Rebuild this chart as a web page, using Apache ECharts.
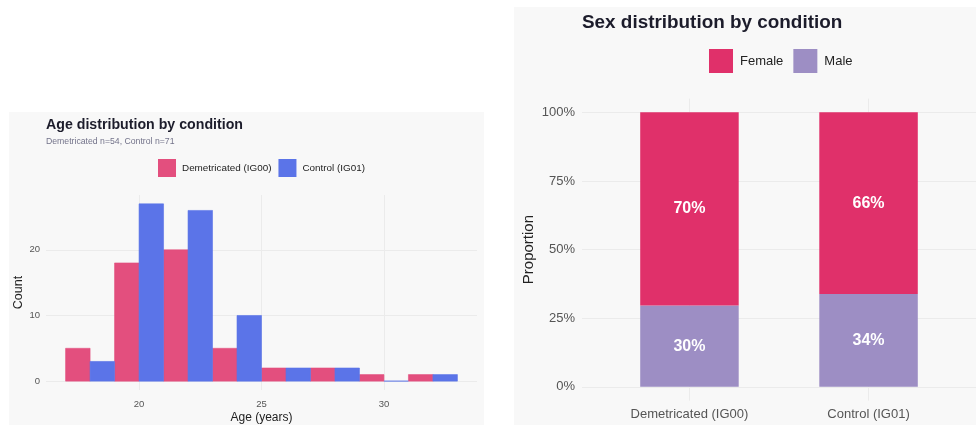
<!DOCTYPE html>
<html>
<head>
<meta charset="utf-8">
<script src="https://cdn.jsdelivr.net/npm/echarts@6/dist/echarts.min.js"></script>
<style>html,body{margin:0;padding:0;background:#fff;}#c{width:976px;height:425px;}</style>
</head>
<body>
<div id="c"></div>
<script>
// ---- data ----
const ageBins = [18, 20, 22, 24, 26, 28, 30, 32];
const demetricatedCounts = [5, 18, 20, 5, 2, 2, 1, 1];
const controlCounts = [3, 27, 26, 10, 2, 2, 0, 1];
const ageTicks = [20, 25, 30];
const countTicks = [0, 10, 20];

const conditions = ['Demetricated (IG00)', 'Control (IG01)'];
const femaleShare = [0.704, 0.662];
const maleShare = [0.296, 0.338];
const propTicks = [0, 0.25, 0.5, 0.75, 1];

const FONT = 'Liberation Sans, Arial, sans-serif';
const RED = '#e34f7e', BLUE = '#5b74e8';
const FEMALE = '#e0306a', MALE = '#9d8ec4';

const chart = echarts.init(document.getElementById('c'), null, {renderer: 'canvas'});

function histItem(offset, color) {
  return function (params, api) {
    const c = api.value(0), v = api.value(1);
    const p0 = api.coord([c + offset, v]);
    const p1 = api.coord([c + offset + 1, 0]);
    return {
      type: 'rect',
      shape: {x: p0[0], y: p0[1], width: p1[0] - p0[0], height: p1[1] - p0[1]},
      style: {fill: color, stroke: color, lineWidth: 0.6}
    };
  };
}

function stackItem(color) {
  return function (params, api) {
    const x = api.value(0), lo = api.value(1), hi = api.value(2);
    const halfW = 0.275;
    const p0 = api.coord([x - halfW, hi]);
    const p1 = api.coord([x + halfW, lo]);
    return {
      type: 'group',
      children: [
        {type: 'rect', shape: {x: p0[0], y: p0[1], width: p1[0] - p0[0], height: p1[1] - p0[1]},
         style: {fill: color}},
        {type: 'text', x: (p0[0] + p1[0]) / 2, y: (p0[1] + p1[1]) / 2,
         style: {text: Math.round((hi - lo) * 100) + '%', fill: '#fff', fontWeight: 'bold',
                 fontSize: 16, fontFamily: FONT, align: 'center', verticalAlign: 'middle'}}
      ]
    };
  };
}

const option = {
  backgroundColor: '#ffffff',
  textStyle: {fontFamily: FONT},
  graphic: [
    {type: 'rect', left: 9, top: 112, shape: {width: 475, height: 313}, style: {fill: '#f8f8f8'}, z: -10},
    {type: 'rect', left: 514, top: 7, shape: {width: 462, height: 418}, style: {fill: '#f8f8f8'}, z: -10}
  ],
  title: [
    {text: 'Age distribution by condition', left: 41, top: 113,
     textStyle: {fontSize: 14.2, fontWeight: 'bold', color: '#1c1c2b', fontFamily: FONT}},
    {text: 'Demetricated n=54, Control n=71', left: 41, top: 132,
     textStyle: {fontSize: 8.7, fontWeight: 'normal', color: '#73738a', fontFamily: FONT}},
    {text: 'Sex distribution by condition', left: 577, top: 8,
     textStyle: {fontSize: 18.9, fontWeight: 'bold', color: '#1c1c2b', fontFamily: FONT}}
  ],
  legend: [
    {data: ['Demetricated (IG00)', 'Control (IG01)'], left: 158, top: 159, padding: 0,
     itemWidth: 18, itemHeight: 18, itemGap: 7, icon: 'rect',
     textStyle: {fontSize: 9.9, color: '#222', fontFamily: FONT, padding: [0, 0, 0, 1]}},
    {data: ['Female', 'Male'], left: 709, top: 49, padding: 0,
     itemWidth: 24, itemHeight: 24, itemGap: 10, icon: 'rect',
     textStyle: {fontSize: 13, color: '#222', fontFamily: FONT, padding: [0, 0, 0, 2]}}
  ],
  grid: [
    {left: 46, top: 195, width: 431, height: 198.3},
    {left: 582, top: 98.6, width: 398.6, height: 302}
  ],
  xAxis: [
    {type: 'value', gridIndex: 0, min: 16.2, max: 33.8,
     name: 'Age (years)', nameLocation: 'middle', nameGap: 22,
     nameTextStyle: {fontSize: 12, color: '#222', fontFamily: FONT},
     axisLine: {show: false}, axisTick: {show: false, customValues: ageTicks},
     axisLabel: {customValues: ageTicks, fontSize: 9.5, color: '#555', margin: 9},
     splitLine: {show: true, lineStyle: {color: '#ebebeb', width: 1}}},
    {type: 'value', gridIndex: 1, min: 0.4, max: 2.6,
     axisLine: {show: false}, axisTick: {show: false, customValues: [1, 2]},
     axisLabel: {customValues: [1, 2], fontSize: 13, color: '#555', margin: 7,
                 formatter: v => conditions[Math.round(v) - 1]},
     splitLine: {show: true, lineStyle: {color: '#ebebeb', width: 1}}}
  ],
  yAxis: [
    {type: 'value', gridIndex: 0, min: -1.35, max: 28.35,
     name: 'Count', nameLocation: 'middle', nameGap: 20, nameRotate: 90,
     nameTextStyle: {fontSize: 12.5, color: '#222', fontFamily: FONT},
     axisLine: {show: false}, axisTick: {show: false, customValues: countTicks},
     axisLabel: {customValues: countTicks, fontSize: 9.5, color: '#555', margin: 6},
     splitLine: {show: true, lineStyle: {color: '#ebebeb', width: 1}}},
    {type: 'value', gridIndex: 1, min: -0.05, max: 1.05,
     name: 'Proportion', nameLocation: 'middle', nameGap: 46, nameRotate: 90,
     nameTextStyle: {fontSize: 15, color: '#222', fontFamily: FONT},
     axisLine: {show: false}, axisTick: {show: false, customValues: propTicks},
     axisLabel: {customValues: propTicks, fontSize: 13, color: '#555', margin: 7,
                 formatter: v => Math.round(v * 100) + '%'},
     splitLine: {show: true, lineStyle: {color: '#ebebeb', width: 1}}}
  ],
  series: [
    {name: 'Demetricated (IG00)', type: 'custom', xAxisIndex: 0, yAxisIndex: 0,
     itemStyle: {color: RED}, renderItem: histItem(-1, RED),
     data: ageBins.map((b, i) => [b, demetricatedCounts[i]])},
    {name: 'Control (IG01)', type: 'custom', xAxisIndex: 0, yAxisIndex: 0,
     itemStyle: {color: BLUE}, renderItem: histItem(0, BLUE),
     data: ageBins.map((b, i) => [b, controlCounts[i]])},
    {name: 'Male', type: 'custom', xAxisIndex: 1, yAxisIndex: 1,
     itemStyle: {color: MALE}, renderItem: stackItem(MALE), encode: {x: 0, y: [1, 2]},
     data: conditions.map((c, i) => [i + 1, 0, maleShare[i]])},
    {name: 'Female', type: 'custom', xAxisIndex: 1, yAxisIndex: 1,
     itemStyle: {color: FEMALE}, renderItem: stackItem(FEMALE), encode: {x: 0, y: [1, 2]},
     data: conditions.map((c, i) => [i + 1, maleShare[i], maleShare[i] + femaleShare[i]])}
  ]
};
chart.setOption(option);
</script>
</body>
</html>
